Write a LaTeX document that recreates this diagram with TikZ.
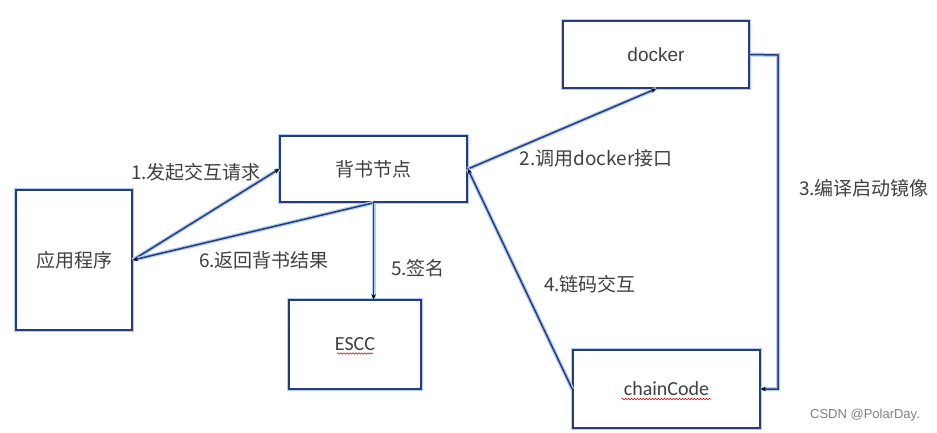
\documentclass[tikz,border=0pt]{standalone}
\usepackage{fontspec}
\setmainfont{Liberation Sans}
\newfontfamily\cjk{Noto Sans CJK SC}
\newfontfamily\cali{Carlito}
\usetikzlibrary{arrows.meta,decorations.pathmorphing}
\definecolor{boxblue}{HTML}{253C78}
\definecolor{glowblue}{HTML}{B5CDF3}
\definecolor{txt}{HTML}{404040}
\tikzset{
  box/.style={draw=boxblue, line width=1.6pt, fill=white, inner sep=0pt,
    preaction={draw=glowblue, line width=4pt},
    font=\cjk\fontsize{19}{21}\selectfont, text=txt},
  conn/.style={draw=boxblue, line width=1.5pt,
    preaction={draw=glowblue, line width=4pt, -}},
  tip/.style={-{Stealth[length=5pt,width=4.5pt,color=black,line width=0.4pt]}},
  lab/.style={font=\cjk\fontsize{19}{21}\selectfont, text=txt, inner sep=0pt},
  squig/.style={draw=red!80!black, line width=0.5pt,
    decorate, decoration={snake, amplitude=0.8pt, segment length=3pt}}
}
\begin{document}
\begin{tikzpicture}[x=1pt,y=-1pt]
\useasboundingbox (0,0) rectangle (937,432);
\fill[white] (0,0) rectangle (937,432);
% nodes
\node[box, minimum width=116pt, minimum height=140pt] (app) at (74,260) {应用程序};
\node[box, minimum width=187pt, minimum height=66pt] (endorse) at (373.5,169) {背书节点};
\node[box, minimum width=186pt, minimum height=67pt, font=\fontsize{19}{21}\selectfont] (docker) at (656,54.5) {docker};
\node[box, minimum width=132pt, minimum height=89pt, font=\cali\fontsize{20}{22}\selectfont] (escc) at (355,344.5) {ESCC};
\node[box, minimum width=187pt, minimum height=78pt, font=\cali\fontsize{20}{22}\selectfont] (chain) at (666.5,389) {chainCode};
\coordinate (turn) at (778,55);
% squiggles
\draw[squig] ([xshift=-18pt,yshift=-9pt]escc.center) -- ([xshift=18pt,yshift=-9pt]escc.center);
\draw[squig] ([xshift=-45pt,yshift=-10pt]chain.center) -- ([xshift=45pt,yshift=-10pt]chain.center);
% connectors
\draw[conn, tip] (app.east) -- (endorse.west);
\draw[conn, tip] (endorse.south) -- (app.east);
\draw[conn, tip] (endorse.south) -- (endorse.south |- escc.north);
\draw[conn, tip] (endorse.east) -- (docker.south);
\draw[conn, tip] (docker.east) -- (turn) |- (chain.east);
\draw[conn, tip] (chain.west) -- (endorse.east);
% labels
\node[lab] (l1) at (196,172) {1.发起交互请求};
\node[lab] (l6) at (264,260) {6.返回背书结果};
\node[lab] (l5) at (418,268) {5.签名};
\node[lab] (l2) at (596,158) {2.调用docker接口};
\node[lab] (l3) at (864,188) {3.编译启动镜像};
\node[lab] (l4) at (590,284) {4.链码交互};
\node[font=\fontsize{13}{14}\selectfont, text=black!50, inner sep=0pt] (wm) at (865,415) {CSDN @PolarDay.};
\end{tikzpicture}
\end{document}
